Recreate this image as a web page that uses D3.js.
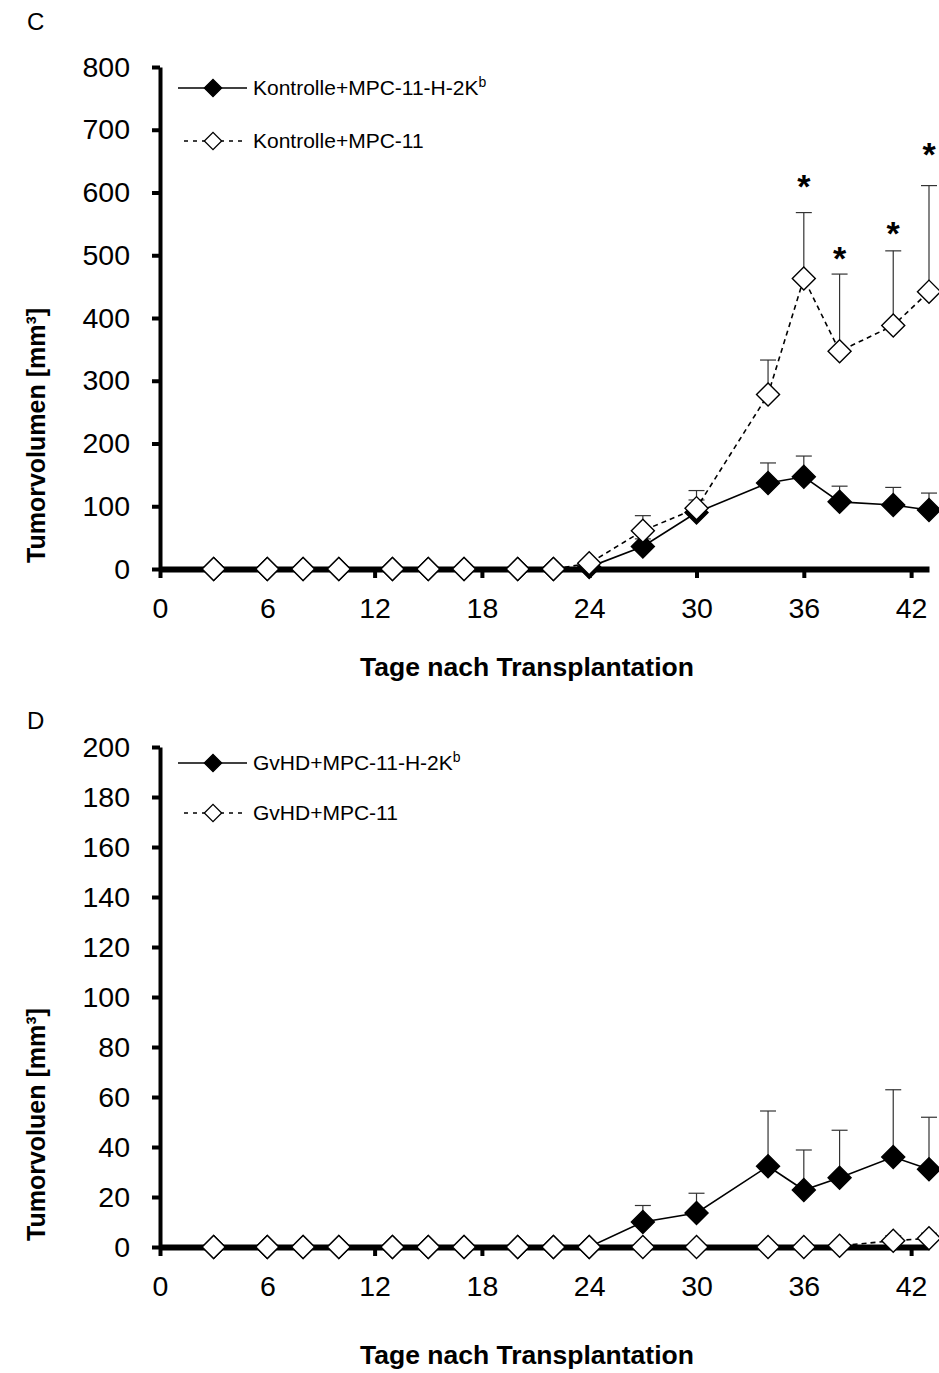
<!DOCTYPE html>
<html><head><meta charset="utf-8">
<script src="https://cdn.jsdelivr.net/npm/d3@7"></script>
<style>body{margin:0;background:#fff} text{font-family:"Liberation Sans",Arial,sans-serif;fill:#000}</style>
</head><body><svg id="chart" width="939" height="1373"></svg>
<script>
// ---------- data ----------
const days = [3,6,8,10,13,15,17,20,22,24,27,30,34,36,38,41,43];
const xTicks = [0,6,12,18,24,30,36,42];
const yTicksC = [0,100,200,300,400,500,600,700,800];
const yTicksD = [0,20,40,60,80,100,120,140,160,180,200];

const kontrolleH2Kb    = [0,0,0,0,0,0,0,0,0,3,36,90,137,147,107,102,94];
const kontrolleH2KbSem = [0,0,0,0,0,0,0,0,0,0,12,20,32,33,25,28,27];
const kontrolleMPC     = [0,0,0,0,0,0,0,0,0,9,61,97,278,463,347,388,442];
const kontrolleMPCSem  = [0,0,0,0,0,0,0,0,0,0,24,28,55,105,123,119,169];
const starDays   = [36,38,41,43];
const starLevels = [619,503,543,670];

const gvhdH2Kb    = [0,0,0,0,0,0,0,0,0,0,10,13.6,32.3,22.8,27.7,36,31.1];
const gvhdH2KbSem = [0,0,0,0,0,0,0,0,0,0,6.6,7.9,22.1,16,19,26.9,20.8];
const gvhdMPC     = [0,0,0,0,0,0,0,0,0,0,0,0,0,0,0.5,2.5,3.5];
const gvhdMPCSem  = [0,0,0,0,0,0,0,0,0,0,0,0,0,0,0,2,2];

const xTitle = "Tage nach Transplantation";

// ---------- drawing ----------
const svg = d3.select("#chart");
const x = d3.scaleLinear().domain([0,43]).range([160,929]);
const diamond = d3.symbol(d3.symbolSquare, 265);
const diamondSmall = d3.symbol(d3.symbolSquare, 150);
const FONT = "Liberation Sans, Arial, sans-serif";

function panel(o){
  const g = svg.append("g");
  const y = d3.scaleLinear().domain([0,o.yMax]).range([o.bottom,o.top]);

  g.append("text").attr("x",27).attr("y",o.letterY).attr("dy","0.35em")
    .attr("font-size",24).text(o.letter);

  // y axis
  const ya = g.append("g").attr("transform",`translate(${x(0)},0)`)
    .call(d3.axisLeft(y).tickValues(o.yTicks).tickSize(8).tickSizeOuter(0).tickPadding(22));
  ya.select(".domain").attr("stroke","#000").attr("stroke-width",4);
  ya.selectAll(".tick line").attr("stroke","#000").attr("stroke-width",4);
  ya.selectAll(".tick text").attr("font-size",28.5).attr("font-family",FONT).attr("fill","#000");

  // x axis
  const xa = g.append("g").attr("transform",`translate(0,${o.bottom})`)
    .call(d3.axisBottom(x).tickValues(xTicks).tickSize(9).tickSizeOuter(0));
  xa.select(".domain").attr("stroke","#000").attr("stroke-width",6);
  xa.selectAll(".tick line").attr("stroke","#000").attr("stroke-width",4);
  xa.selectAll(".tick text").attr("y",39).attr("dy","0.35em").attr("font-size",28.5)
    .attr("font-family",FONT).attr("fill","#000");

  // titles
  g.append("text").attr("x",527).attr("y",o.xTitleY).attr("dy","0.35em")
    .attr("text-anchor","middle").attr("font-size",26.5).attr("font-weight","bold").text(xTitle);
  g.append("text").attr("transform",`translate(36,${o.bottom-6}) rotate(-90)`)
    .attr("dy","0.35em").attr("text-anchor","start").attr("font-size",25)
    .attr("font-weight","bold").text(o.yTitle);

  // series
  const pts = s => days.map((d,i)=>({d, v:s.values[i], e:s.sem[i]}));
  const line = d3.line().x(p=>x(p.d)).y(p=>y(p.v));
  o.series.forEach(s=>{
    const eb = g.append("g").attr("stroke","#333").attr("stroke-width",1.2);
    pts(s).filter(p=>p.e>0).forEach(p=>{
      eb.append("line").attr("x1",x(p.d)).attr("x2",x(p.d)).attr("y1",y(p.v)).attr("y2",y(p.v+p.e));
      eb.append("line").attr("x1",x(p.d)-8).attr("x2",x(p.d)+8).attr("y1",y(p.v+p.e)).attr("y2",y(p.v+p.e));
    });
  });
  o.series.forEach(s=>{
    g.append("path").attr("d",line(pts(s))).attr("fill","none").attr("stroke","#000")
      .attr("stroke-width",1.6).attr("stroke-dasharray",s.filled?null:"5,4");
  });
  o.series.forEach(s=>{
    g.append("g").selectAll("path").data(pts(s)).join("path")
      .attr("d",diamond).attr("transform",p=>`translate(${x(p.d)},${y(p.v)}) rotate(45)`)
      .attr("fill",s.filled?"#000":"#fff").attr("stroke","#000").attr("stroke-width",1.4);
  });

  // significance stars
  if(o.stars){
    o.stars.days.forEach((d,i)=>{
      g.append("text").attr("x",x(d)).attr("y",y(o.stars.levels[i])).attr("dy","0.5em")
        .attr("text-anchor","middle").attr("font-size",34).attr("font-weight","bold").text("*");
    });
  }

  // legend
  o.series.forEach((s,i)=>{
    const ly = o.legendY[i];
    const lg = g.append("g");
    if(s.filled){
      lg.append("line").attr("x1",178).attr("x2",247).attr("y1",ly).attr("y2",ly)
        .attr("stroke","#000").attr("stroke-width",1.4);
    } else {
      lg.append("line").attr("x1",184).attr("x2",247).attr("y1",ly).attr("y2",ly)
        .attr("stroke","#000").attr("stroke-width",1.4).attr("stroke-dasharray","4,5");
    }
    lg.append("path").attr("d",diamondSmall).attr("transform",`translate(213,${ly}) rotate(45)`)
      .attr("fill",s.filled?"#000":"#fff").attr("stroke","#000").attr("stroke-width",1.3);
    const t = lg.append("text").attr("x",253).attr("y",ly).attr("dy","0.35em").attr("font-size",21);
    t.append("tspan").text(s.name);
    if(s.sup) t.append("tspan").attr("font-size",14).attr("dy",-8).text(s.sup);
  });
}

panel({
  letter:"C", letterY:22, top:67, bottom:569, yMax:800, yTicks:yTicksC,
  yTitle:"Tumorvolumen [mm³]", xTitleY:667, legendY:[88,141],
  series:[
    {name:"Kontrolle+MPC-11-H-2K", sup:"b", values:kontrolleH2Kb, sem:kontrolleH2KbSem, filled:true},
    {name:"Kontrolle+MPC-11", values:kontrolleMPC, sem:kontrolleMPCSem, filled:false}
  ],
  stars:{days:starDays, levels:starLevels}
});
panel({
  letter:"D", letterY:721, top:747, bottom:1247, yMax:200, yTicks:yTicksD,
  yTitle:"Tumorvoluen [mm³]", xTitleY:1355, legendY:[763,813],
  series:[
    {name:"GvHD+MPC-11-H-2K", sup:"b", values:gvhdH2Kb, sem:gvhdH2KbSem, filled:true},
    {name:"GvHD+MPC-11", values:gvhdMPC, sem:gvhdMPCSem, filled:false}
  ]
});
</script></body></html>
